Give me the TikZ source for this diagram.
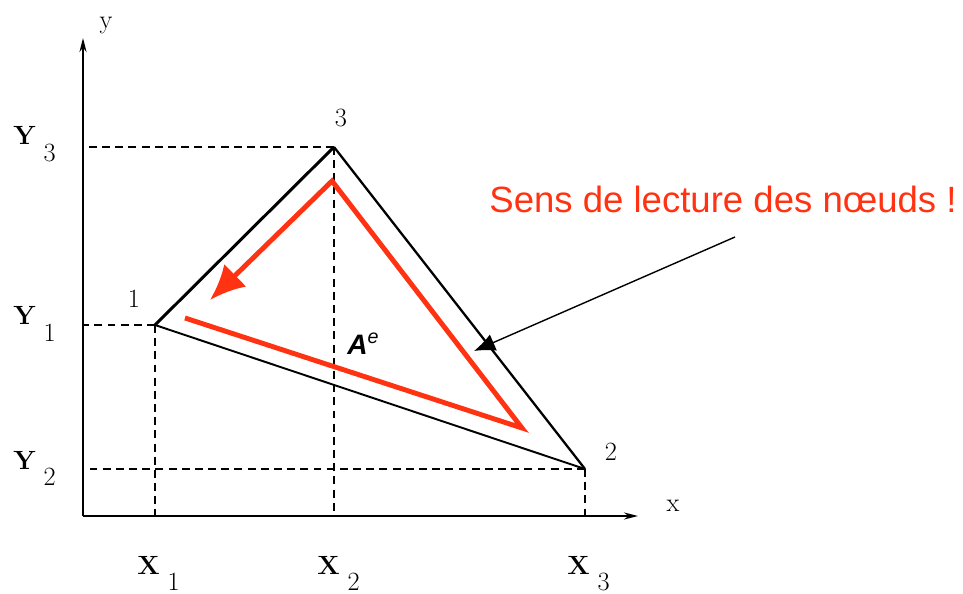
\documentclass[tikz,border=0pt]{standalone}
\usepackage{fontspec}
\usetikzlibrary{arrows.meta}
\newfontfamily\notefont{Liberation Sans}
\definecolor{readred}{RGB}{255,51,17}
\newcommand\coordlbl[2]{\textbf{#1}\hspace{0.3em}\raisebox{-0.62em}{#2}}

\begin{document}
\begin{tikzpicture}[x=0.02cm,y=-0.02cm,
  guide/.style={dash pattern=on 4.5pt off 3pt, line width=0.8pt},
  axis/.style={line width=1pt, -{Stealth[length=8pt,width=4pt]}},
  lbl/.style={font=\fontsize{15}{18}\selectfont, inner sep=0pt},
  readpath/.style={readred, line width=2.8pt, -{Latex[length=20pt,width=18pt]}}]
  \useasboundingbox (0,0) rectangle (963,594);
  \coordinate (o) at (83,516);
  \coordinate (ytop) at (83,38);
  \coordinate (xend) at (638,516);
  \coordinate (n1) at (155,325);
  \coordinate (n2) at (585,469);
  \coordinate (n3) at (334,147);
  \draw[axis] (o) -- (ytop);
  \draw[axis] (o) -- (xend);
  \draw[guide] (n3) -- (n3 -| o);
  \draw[guide] (n1) -- (n1 -| o);
  \draw[guide] (n2) -- (n2 -| o);
  \draw[guide] (n1) -- (n1 |- o);
  \draw[guide] (n3) -- (n3 |- o);
  \draw[guide] (n2) -- (n2 |- o);
  \draw[line width=1.7pt] (n1) -- (n3);
  \draw[line width=1.3pt] (n3) -- (n2);
  \draw[line width=1.1pt] (n2) -- (n1);
  \node[lbl] (ylbl) at (106,26) {y};
  \node[lbl] (xlbl) at (673,506) {x};
  \node[lbl] (lbl1) at (134,299) {1};
  \node[lbl] (lbl2) at (611,452) {2};
  \node[lbl] (lbl3) at (341,118) {3};
  \node[lbl, anchor=base west] (ly3) at (13,145) {\coordlbl{Y}{3}};
  \node[lbl, anchor=base west] (ly1) at (13,325) {\coordlbl{Y}{1}};
  \node[lbl, anchor=base west] (ly2) at (13,469) {\coordlbl{Y}{2}};
  \node[lbl, anchor=base west] (lx1) at (137,574) {\coordlbl{X}{1}};
  \node[lbl, anchor=base west] (lx2) at (317,574) {\coordlbl{X}{2}};
  \node[lbl, anchor=base west] (lx3) at (567,574) {\coordlbl{X}{3}};
  \coordinate (r0) at (185,318);
  \coordinate (r1) at (522,428);
  \coordinate (r2) at (332,181);
  \coordinate (r3) at (210,300);
  \draw[readpath, line join=miter] (r0) -- (r1) -- (r2) -- (r3);
  \node[anchor=base west, inner sep=0pt, font=\notefont\bfseries\itshape\fontsize{16}{18}\selectfont] (area) at (347,355) {A\textsuperscript{\mdseries e}};
  \node[readred, inner sep=0pt, font=\notefont\fontsize{20.8}{24}\selectfont] (note) at (723,199) {Sens de lecture des nœuds !};
  \coordinate (ptail) at (735,237);
  \coordinate (ptip) at (474,351);
  \draw[line width=0.8pt, -{Latex[length=12pt,width=10pt]}] (ptail) -- (ptip);
\end{tikzpicture}
\end{document}
